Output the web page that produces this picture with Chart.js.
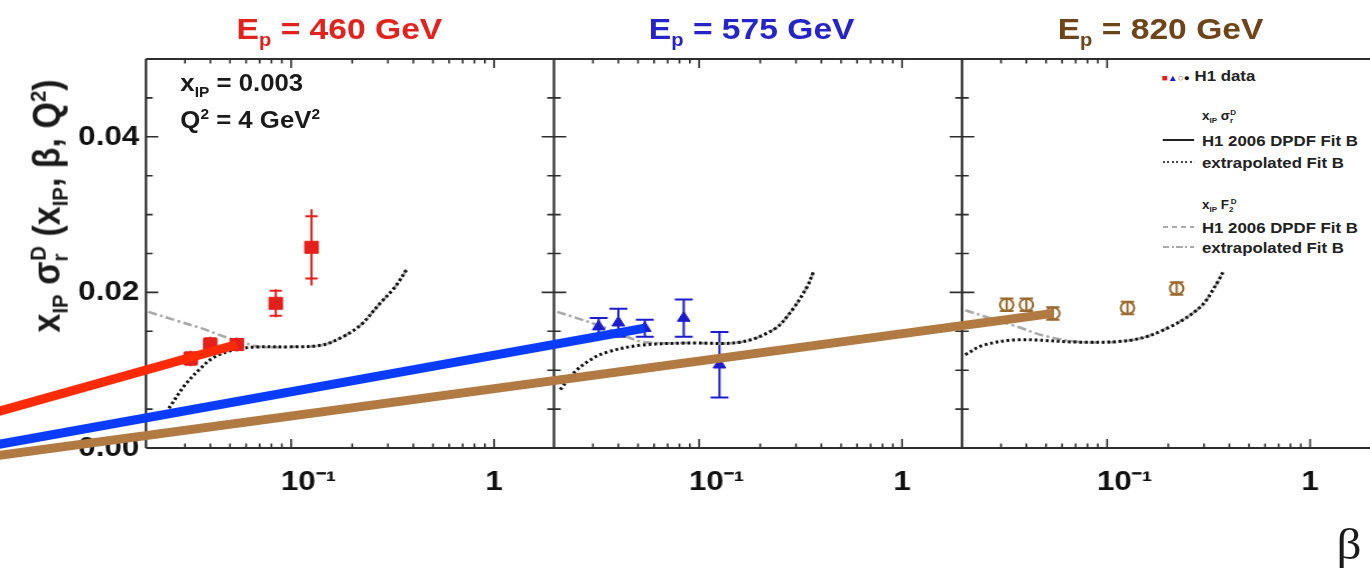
<!DOCTYPE html>
<html>
<head>
<meta charset="utf-8">
<title>H1 diffractive reduced cross section, x_IP = 0.003, Q2 = 4 GeV2</title>
<script src="https://cdn.jsdelivr.net/npm/chart.js@4.4.1/dist/chart.umd.min.js"></script>
<style>
  html, body { margin: 0; padding: 0; background: #fff; overflow: hidden; }
  /* the reference figure is stretched horizontally, so the whole thing is */
  #wrap {
    position: relative; width: 1223px; height: 568px;
    transform: scaleX(1.1202); transform-origin: 0 0;
    font-family: "Liberation Sans", Arial, Helvetica, sans-serif; font-weight: bold; color: #1a1a1a;
  }
  #chart { position: absolute; left: 0; top: 0; }
  .lbl { position: absolute; white-space: nowrap; line-height: 1; }
  .lbl sub, .lbl sup { font-size: 60%; line-height: 0; }
  .title { width: 400px; text-align: center; font-size: 30px; top: 14px; }
  .info { left: 161px; font-size: 23px; }
  #ytitle { left: 41px; top: 206px; font-size: 34px; transform: translate(-50%, -50%) rotate(-90deg); }
  .bk { margin-left: -0.35em; }
  #legendBox { position: absolute; left: 1033px; top: 60px; width: 184px; height: 206px; background: #fff; }
  .leg { font-size: 15px; color: #222; }
  .smp { position: absolute; left: 1038px; width: 28px; height: 2px; }
  .mk { font-size: 9px; letter-spacing: 0; }
  #betaLbl { left: 1193px; top: 519px; font: 44px "Liberation Serif", "Times New Roman", serif; }
</style>
</head>
<body>
<div id="wrap">
  <canvas id="chart" width="1223" height="568" style="width:1223px;height:568px"></canvas>

  <div class="lbl title" style="left:103px;color:#e3221e">E<sub>p</sub> = 460 GeV</div>
  <div class="lbl title" style="left:471px;color:#2424c8">E<sub>p</sub> = 575 GeV</div>
  <div class="lbl title" style="left:836px;color:#6e451a">E<sub>p</sub> = 820 GeV</div>

  <div class="lbl info" style="top:72px">x<sub>IP</sub> = 0.003</div>
  <div class="lbl info" style="top:109px">Q<sup>2</sup> = 4 GeV<sup>2</sup></div>

  <div class="lbl" id="ytitle">x<sub>IP</sub> σ<sub>r</sub><sup class="bk">D</sup> (x<sub>IP</sub>, β, Q<sup>2</sup>)</div>

  <div id="legendBox"></div>
  <div class="lbl leg" style="left:1037px;top:68px"><span class="mk"><span style="color:#e5201c">■</span><span style="color:#1c1ccf">▲</span><span style="color:#9a6a2e">○</span><span style="color:#111">●</span></span> H1 data</div>
  <div class="lbl leg" style="left:1073px;top:110px;font-size:12px">x<sub>IP</sub> σ<sub>r</sub><sup class="bk">D</sup></div>
  <div class="smp" style="top:139px;background:#222"></div>
  <div class="lbl leg" style="left:1073px;top:133px">H1 2006 DPDF Fit B</div>
  <div class="smp" style="top:161px;background:repeating-linear-gradient(to right,#444 0 2px,transparent 2px 4px)"></div>
  <div class="lbl leg" style="left:1073px;top:155px">extrapolated Fit B</div>
  <div class="lbl leg" style="left:1073px;top:199px;font-size:12px">x<sub>IP</sub> F<sub>2</sub><sup class="bk">D</sup></div>
  <div class="smp" style="top:226px;background:repeating-linear-gradient(to right,#aaa 0 5px,transparent 5px 8px)"></div>
  <div class="lbl leg" style="left:1073px;top:220px">H1 2006 DPDF Fit B</div>
  <div class="smp" style="top:246px;background:repeating-linear-gradient(to right,#aaa 0 6px,transparent 6px 8px,#aaa 8px 10px,transparent 10px 12px)"></div>
  <div class="lbl leg" style="left:1073px;top:240px">extrapolated Fit B</div>

  <div class="lbl" id="betaLbl">β</div>
</div>
<script>
// H1 data, x_IP = 0.003, Q^2 = 4 GeV^2
const beta460 = [0.032, 0.040, 0.054, 0.084, 0.126];
const sigma460 = [0.0115, 0.0133, 0.0133, 0.0186, 0.0258];
const err460 = [0.0008, 0.0008, 0.0007, 0.0016, 0.0040];
const errTot460 = [0.0010, 0.0010, 0.0009, 0.0018, 0.0049];

const beta575 = [0.032, 0.040, 0.054, 0.084, 0.126];
const sigma575 = [0.0156, 0.0161, 0.0154, 0.0167, 0.0107];
const err575 = [0.0011, 0.0018, 0.0011, 0.0024, 0.0042];

const beta820 = [0.032, 0.040, 0.054, 0.126, 0.22];
const sigma820 = [0.0184, 0.0184, 0.0173, 0.0180, 0.0205];
const err820 = [0.0008, 0.0008, 0.0008, 0.0008, 0.0008];

// extrapolated Fit B, x_IP sigma_r^D (dotted)
const fitBeta460 = [0.025, 0.030, 0.036, 0.042, 0.054, 0.070, 0.10, 0.14, 0.174, 0.22, 0.27, 0.325, 0.37];
const fitSig460 = [0.0051, 0.0081, 0.0103, 0.0117, 0.0127, 0.0130, 0.0130, 0.0132, 0.0141, 0.0158, 0.0184, 0.0207, 0.0229];
const fitBeta575 = [0.0207, 0.024, 0.029, 0.035, 0.051, 0.090, 0.159, 0.232, 0.281, 0.34, 0.365];
const fitSig575 = [0.0075, 0.0096, 0.0113, 0.0123, 0.0132, 0.0135, 0.0136, 0.0152, 0.0174, 0.0207, 0.0226];
const fitBeta820 = [0.0200, 0.0245, 0.036, 0.076, 0.134, 0.198, 0.287, 0.348, 0.372];
const fitSig820 = [0.0120, 0.0132, 0.0139, 0.0136, 0.0139, 0.0154, 0.0181, 0.0212, 0.0226];

// extrapolated Fit B, x_IP F_2^D (grey dash-dot)
const f2Beta460 = [0.0198, 0.027, 0.036, 0.047, 0.059, 0.070, 0.10, 0.14, 0.174, 0.22, 0.27, 0.325, 0.37];
const f2Val460 = [0.0175, 0.0164, 0.0154, 0.0143, 0.0135, 0.0130, 0.0130, 0.0132, 0.0141, 0.0158, 0.0184, 0.0207, 0.0229];
const f2Beta575 = [0.0200, 0.025, 0.0325, 0.043, 0.054, 0.090, 0.159, 0.232, 0.281, 0.34, 0.365];
const f2Val575 = [0.0175, 0.0167, 0.0157, 0.0144, 0.0136, 0.0135, 0.0136, 0.0152, 0.0174, 0.0207, 0.0226];
const f2Beta820 = [0.0200, 0.0265, 0.036, 0.0495, 0.076, 0.134, 0.198, 0.287, 0.348, 0.372];
const f2Val820 = [0.0177, 0.0167, 0.0156, 0.0144, 0.0136, 0.0139, 0.0154, 0.0181, 0.0212, 0.0226];

// thick strokes drawn over the figure, from left of the frame to the 3rd point of each series
const pointerStartBeta = 0.0035;
const pointerStartY = [0.0046, 0.0004, -0.0010];

const xLabelBeta = [0.1, 1];
const yTickValues = [0, 0.02, 0.04];

// three panels side by side on one linear axis of log10(beta)
const logBetaMin = -1.715;
const panelSpan = 2.010;
const toU = (b, k) => Math.log10(b) + k * panelSpan;
const pts = (betas, vals, k) => betas.map((b, i) => ({ x: toU(b, k), y: vals[i] }));

const tickFont = { family: '"Liberation Sans", Arial, sans-serif', weight: 'bold', size: 28 };

function pointer(color, width, k, betas, vals) {
  return {
    data: [{ x: toU(pointerStartBeta, 0), y: pointerStartY[k] }, { x: toU(betas[2], k), y: vals[2] }],
    showLine: true, borderColor: color, borderWidth: width, pointRadius: 0,
    clip: false, order: 0
  };
}

function curve(betas, vals, k, dotted) {
  return {
    data: pts(betas, vals, k),
    showLine: true, pointRadius: 0, tension: 0.35,
    borderColor: dotted ? '#111' : '#a8a8a8',
    borderWidth: dotted ? 3 : 2.5,
    borderDash: dotted ? [2.5, 2.5] : [8, 3, 2.5, 3],
    order: dotted ? 3 : 4
  };
}

const datasets = [
  pointer('#ff2a06', 9, 0, beta460, sigma460),
  pointer('#0a3cff', 9, 1, beta575, sigma575),
  pointer('#b07a42', 9, 2, beta820, sigma820),
  {
    data: pts(beta460, sigma460, 0), pointStyle: 'rect', pointRadius: 8.5,
    backgroundColor: '#e5201c', borderColor: '#e5201c', borderWidth: 1, order: 1,
    errBar: { err: err460, errTot: errTot460, cap: 5.5, color: '#e5201c' }
  },
  {
    data: pts(beta575, sigma575, 1), pointStyle: 'triangle', pointRadius: 6.5,
    backgroundColor: '#1c1ccf', borderColor: '#1c1ccf', borderWidth: 1, order: 1,
    errBar: { err: err575, cap: 8, color: '#1c1ccf' }
  },
  {
    data: pts(beta820, sigma820, 2), pointStyle: 'circle', pointRadius: 6,
    backgroundColor: 'rgba(0,0,0,0)', borderColor: '#9a6a2e', borderWidth: 2, order: 1,
    errBar: { err: err820, cap: 6, color: '#9a6a2e' }
  },
  curve(fitBeta460, fitSig460, 0, true),
  curve(fitBeta575, fitSig575, 1, true),
  curve(fitBeta820, fitSig820, 2, true),
  curve(f2Beta460, f2Val460, 0, false),
  curve(f2Beta575, f2Val575, 1, false),
  curve(f2Beta820, f2Val820, 2, false)
];

// panel frames with inward ticks, drawn under the data
const panelFrames = {
  id: 'panelFrames',
  beforeDatasetsDraw(chart) {
    const { ctx, chartArea: a, scales: { x, y } } = chart;
    ctx.save();
    ctx.strokeStyle = '#2e2e2e';
    ctx.lineWidth = 2.2;
    ctx.beginPath();
    ctx.moveTo(a.left, a.top); ctx.lineTo(a.right, a.top);
    ctx.moveTo(a.left, a.bottom); ctx.lineTo(a.right, a.bottom);
    for (let k = 0; k < 3; k++) {
      const px = x.getPixelForValue(logBetaMin + k * panelSpan);
      ctx.moveTo(px, a.top); ctx.lineTo(px, a.bottom);
    }
    ctx.stroke();

    ctx.lineWidth = 1.6;
    ctx.beginPath();
    for (let k = 0; k < 3; k++) {
      const lo = logBetaMin + k * panelSpan, hi = lo + panelSpan;
      for (let d = -2; d <= 0; d++) {
        for (let m = 1; m <= 9; m++) {
          const u = Math.log10(m) + d + k * panelSpan;
          if (u <= lo + 0.02 || u >= hi) continue;
          const px = x.getPixelForValue(u), len = m === 1 ? 9 : 4.5;
          ctx.moveTo(px, a.bottom); ctx.lineTo(px, a.bottom - len);
          ctx.moveTo(px, a.top); ctx.lineTo(px, a.top + len);
        }
      }
      const xl = x.getPixelForValue(lo), xr = x.getPixelForValue(hi);
      for (let i = 1; i < 10; i++) {
        const py = y.getPixelForValue(i * 0.005), len = i % 4 === 0 ? 11 : 6;
        ctx.moveTo(xl, py); ctx.lineTo(xl + len, py);
        if (k < 2) { ctx.moveTo(xr, py); ctx.lineTo(xr - len, py); }
      }
    }
    ctx.stroke();
    ctx.restore();
  }
};

const errorBars = {
  id: 'errorBars',
  beforeDatasetsDraw(chart) {
    const { ctx, scales: { x, y } } = chart;
    ctx.save();
    ctx.lineWidth = 2;
    chart.data.datasets.forEach(ds => {
      if (!ds.errBar) return;
      const { err, errTot, cap, color } = ds.errBar;
      ctx.strokeStyle = color;
      ctx.beginPath();
      ds.data.forEach((p, i) => {
        const px = x.getPixelForValue(p.x);
        const tot = (errTot || err)[i];
        ctx.moveTo(px, y.getPixelForValue(p.y - tot));
        ctx.lineTo(px, y.getPixelForValue(p.y + tot));
        for (const s of [-1, 1]) {
          const py = y.getPixelForValue(p.y + s * err[i]);
          ctx.moveTo(px - cap, py); ctx.lineTo(px + cap, py);
        }
      });
      ctx.stroke();
    });
    ctx.restore();
  }
};

new Chart(document.getElementById('chart'), {
  type: 'scatter',
  data: { datasets },
  options: {
    responsive: false,
    animation: false,
    events: [],
    layout: { autoPadding: false, padding: { top: 59, left: 0, right: 0, bottom: 0 } },
    plugins: { legend: { display: false }, tooltip: { enabled: false } },
    scales: {
      x: {
        type: 'linear',
        min: logBetaMin,
        max: logBetaMin + 3 * panelSpan,
        afterFit(s) { s.height = 120; s.paddingLeft = 0; s.paddingRight = 0; },
        afterBuildTicks(s) {
          const t = [];
          for (let k = 0; k < 3; k++) xLabelBeta.forEach(b => t.push({ value: toU(b, k) }));
          s.ticks = t;
        },
        grid: { display: false, drawTicks: false },
        border: { display: false },
        ticks: {
          padding: 17, autoSkip: false, maxRotation: 0, color: '#111', font: tickFont,
          callback(v) {
            const local = v - Math.floor((v - logBetaMin) / panelSpan) * panelSpan;
            return Math.abs(local) < 0.01 ? '1' : '    10\u207B\u00B9';
          }
        }
      },
      y: {
        min: 0,
        max: 0.05,
        afterFit(s) { s.width = 130.3; s.paddingTop = 0; s.paddingBottom = 0; },
        afterBuildTicks(s) { s.ticks = yTickValues.map(v => ({ value: v })); },
        grid: { display: false, drawTicks: false },
        border: { display: false },
        ticks: { padding: 6, color: '#111', font: tickFont, callback: v => v.toFixed(2) }
      }
    }
  },
  plugins: [panelFrames, errorBars]
});
</script>
</body>
</html>
